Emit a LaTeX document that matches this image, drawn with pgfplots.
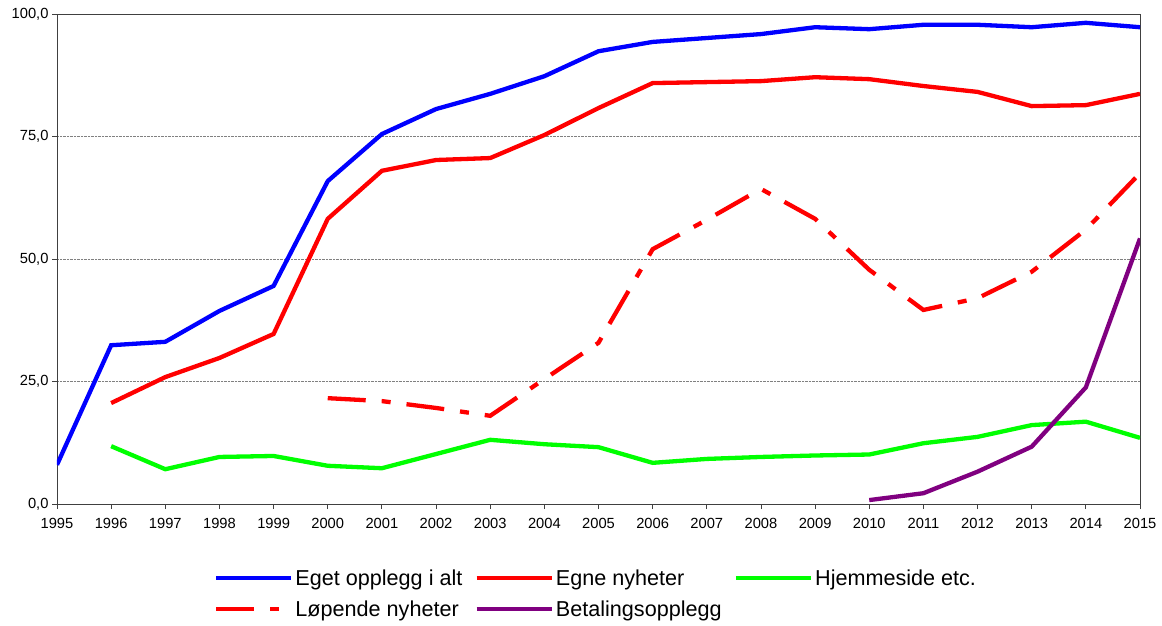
\documentclass[border=0pt]{standalone}
\usepackage{pgfplots}
\pgfplotsset{compat=1.18}
\usepackage{fontspec}
\setmainfont{Liberation Sans}
\definecolor{cblue}{RGB}{0,0,255}
\definecolor{cred}{RGB}{255,0,0}
\definecolor{cgreen}{RGB}{0,255,0}
\definecolor{cpurple}{RGB}{128,0,128}
\begin{document}
\begin{tikzpicture}
\begin{axis}[
  name=ax,
  scale only axis,
  width=1083pt, height=490pt,
  xmin=1995, xmax=2015, ymin=0, ymax=100,
  xtick={1995,1996,...,2015},
  ytick={0,25,50,75,100},
  ymajorgrids,
  major grid style={black!50, densely dotted, line width=0.6pt},
  axis line style={draw=black!75, line width=0.9pt},
  tick style={draw=black!75, line width=0.9pt},
  tick align=outside,
  major tick length=5pt,
  xtick pos=bottom, ytick pos=left,
  /pgf/number format/assume math mode=true,
  xticklabel style={font=\fontsize{14.7}{16}\selectfont, yshift=-6pt, /pgf/number format/1000 sep={}},
  yticklabel style={font=\fontsize{14.7}{16}\selectfont, /pgf/number format/fixed, /pgf/number format/fixed zerofill, /pgf/number format/precision=1, /pgf/number format/use comma, /pgf/number format/1000 sep={}},
  legend columns=3,
  legend cell align=left,
  legend style={draw=none, fill=none, at={(0.142,-0.125)}, anchor=north west,
    font=\fontsize{21.6}{24}\selectfont, row sep=10pt,
    /tikz/every even column/.append style={column sep=10pt}},
  legend image code/.code={\draw[#1, line width=4.5pt] (0pt,0pt) -- (75pt,0pt);},
  every axis plot/.append style={line width=4.3pt},
]
\addplot[cblue] coordinates {
(1995,8.0) (1996,32.4) (1997,33.1) (1998,39.4) (1999,44.5) (2000,65.9)
(2001,75.5) (2002,80.6) (2003,83.7) (2004,87.3) (2005,92.4) (2006,94.3)
(2007,95.1) (2008,95.9) (2009,97.3) (2010,96.9) (2011,97.8) (2012,97.8)
(2013,97.3) (2014,98.2) (2015,97.3)};
\addlegendentry{Eget opplegg i alt}
\addplot[cred] coordinates {
(1996,20.6) (1997,25.9) (1998,29.8) (1999,34.7) (2000,58.2)
(2001,68.0) (2002,70.2) (2003,70.6) (2004,75.3) (2005,80.8) (2006,85.9)
(2007,86.1) (2008,86.3) (2009,87.1) (2010,86.7) (2011,85.3) (2012,84.1)
(2013,81.2) (2014,81.4) (2015,83.7)};
\addlegendentry{Egne nyheter}
\addplot[cgreen] coordinates {
(1996,11.8) (1997,7.1) (1998,9.6) (1999,9.8) (2000,7.8)
(2001,7.3) (2002,10.2) (2003,13.1) (2004,12.2) (2005,11.6) (2006,8.4)
(2007,9.2) (2008,9.6) (2009,9.9) (2010,10.1) (2011,12.4) (2012,13.7)
(2013,16.1) (2014,16.8) (2015,13.5)};
\addlegendentry{Hjemmeside etc.}
\addplot[cred, dash pattern=on 38pt off 16pt on 9pt off 16pt] coordinates {
(2000,21.6) (2001,21.0) (2002,19.6) (2003,18.0) (2004,25.5) (2005,32.9)
(2006,52.0) (2007,58.0) (2008,64.3) (2009,58.2) (2010,47.8) (2011,39.6)
(2012,42.0) (2013,47.4) (2014,56.0) (2015,67.5)};
\addlegendentry{Løpende nyheter}
\addplot[cpurple] coordinates {
(2010,0.8) (2011,2.2) (2012,6.6) (2013,11.7) (2014,23.8) (2015,54.2)};
\addlegendentry{Betalingsopplegg}
\end{axis}
\path (ax.south west) ++(-57pt,-121pt) coordinate (bl);
\path (ax.north east) ++(22pt,14pt) coordinate (tr);
\pgfresetboundingbox
\useasboundingbox (bl) rectangle (tr);
\end{tikzpicture}
\end{document}
